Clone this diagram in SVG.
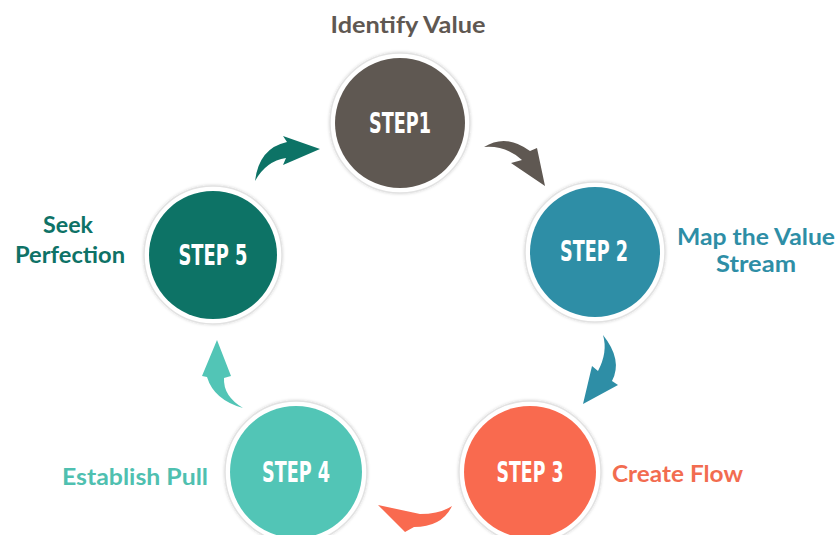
<svg xmlns="http://www.w3.org/2000/svg" width="839" height="535" viewBox="0 0 839 535">
<defs>
<style>
.ring{fill:#ffffff;stroke:#e2e2e2;stroke-width:1.5}
.step{font-family:"DejaVu Sans Condensed","DejaVu Sans",sans-serif;font-stretch:condensed;font-weight:bold;font-size:29px;fill:#ffffff;text-anchor:middle}
.lbl{font-family:Lato,"Open Sans",sans-serif;font-weight:bold;font-size:22.5px}
</style>
<filter id="sh" x="-20%" y="-20%" width="140%" height="140%">
<feDropShadow dx="0" dy="0" stdDeviation="1.5" flood-color="#000" flood-opacity="0.18"/>
</filter>
</defs>
<rect width="839" height="535" fill="#ffffff"/>
<g id="connectors">
<path d="M484,147 Q506,133 530,151 L537,148 L545,186 L511,163 L522,160 Q505,145 484,147 Z" fill="#5f5852"/>
<path d="M603,335 Q623,360 612,381 L618,385 L583,404 L592,366 L598,371 Q608,352 603,335 Z" fill="#2e8ea6"/>
<path d="M378,505 L420,514 Q440,514 452,506 Q442,527 414,527 L405,532 Z" fill="#f96a4f"/>
<path d="M217,340 L231,376 L224,378 Q223,396 243,408 Q214,400 207,377 L202,376 Z" fill="#52c5b6"/>
<path d="M320,149 L283,165 L286,158 Q266,161 255,181 Q259,148 287,142 L283,136 Z" fill="#0d7366"/>
</g>
<g id="step1">
<circle class="ring" cx="400" cy="123" r="70" filter="url(#sh)"/>
<circle cx="400" cy="123" r="65" fill="#5f5852"/>
<text class="step" x="400" y="133" textLength="62" lengthAdjust="spacingAndGlyphs">STEP1</text>
<text class="lbl" x="408" y="33" fill="#5f5852" text-anchor="middle" textLength="155" lengthAdjust="spacingAndGlyphs">Identify Value</text>
</g>
<g id="step2">
<circle class="ring" cx="595" cy="252" r="70" filter="url(#sh)"/>
<circle cx="595" cy="252" r="65" fill="#2e8ea6"/>
<text class="step" x="594" y="261" textLength="68" lengthAdjust="spacingAndGlyphs">STEP 2</text>
<text class="lbl" x="756" y="245" fill="#2e8ea6" text-anchor="middle" textLength="158" lengthAdjust="spacingAndGlyphs">Map the Value</text>
<text class="lbl" x="756" y="272" fill="#2e8ea6" text-anchor="middle" textLength="80" lengthAdjust="spacingAndGlyphs">Stream</text>
</g>
<g id="step3">
<circle class="ring" cx="530" cy="472" r="71" filter="url(#sh)"/>
<circle cx="530" cy="472" r="66" fill="#f96a4f"/>
<text class="step" x="530" y="482" textLength="67" lengthAdjust="spacingAndGlyphs">STEP 3</text>
<text class="lbl" x="612" y="482" fill="#f26c50" textLength="131" lengthAdjust="spacingAndGlyphs">Create Flow</text>
</g>
<g id="step4">
<circle class="ring" cx="296" cy="472" r="71" filter="url(#sh)"/>
<circle cx="296" cy="472" r="66" fill="#52c5b6"/>
<text class="step" x="296" y="482" textLength="68" lengthAdjust="spacingAndGlyphs">STEP 4</text>
<text class="lbl" x="62" y="485" fill="#4fc0b0" textLength="146" lengthAdjust="spacingAndGlyphs">Establish Pull</text>
</g>
<g id="step5">
<circle class="ring" cx="213" cy="255" r="69" filter="url(#sh)"/>
<circle cx="213" cy="255" r="64" fill="#0d7366"/>
<text class="step" x="213" y="265" textLength="69" lengthAdjust="spacingAndGlyphs">STEP 5</text>
<text class="lbl" x="68" y="233" fill="#0e7266" text-anchor="middle" textLength="50" lengthAdjust="spacingAndGlyphs">Seek</text>
<text class="lbl" x="70" y="263" fill="#0e7266" text-anchor="middle" textLength="110" lengthAdjust="spacingAndGlyphs">Perfection</text>
</g>
</svg>
